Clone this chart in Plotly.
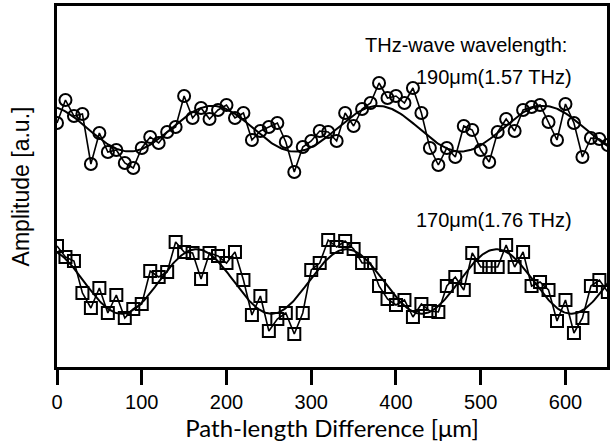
import numpy as np
import plotly.graph_objects as go

# Path-length difference [um]
x_circ = list(range(0, 660, 10))
y_circ = [2.44, 2.67, 2.51, 2.53, 2.03, 2.34, 2.15, 2.17, 2.04, 1.99,
          2.19, 2.30, 2.24, 2.35, 2.40, 2.71, 2.49, 2.59, 2.48, 2.57,
          2.62, 2.49, 2.54, 2.27, 2.36, 2.40, 2.44, 2.25, 1.95, 2.20,
          2.26, 2.36, 2.35, 2.26, 2.54, 2.41, 2.58, 2.64, 2.84, 2.69,
          2.71, 2.64, 2.79, 2.54, 2.19, 2.02, 2.19, 2.10, 2.41, 2.37,
          2.17, 2.05, 2.35, 2.48, 2.36, 2.57, 2.60, 2.62, 2.45, 2.27,
          2.63, 2.44, 2.10, 2.29, 2.28, 2.22]

x_sq = list(range(0, 660, 10))
y_sq = [1.21, 1.10, 1.06, 0.74, 0.59, 0.79, 0.54, 0.72, 0.49, 0.58,
        0.63, 0.96, 0.90, 0.95, 1.25, 1.15, 1.14, 0.88, 1.14, 1.11,
        1.04, 1.15, 0.87, 0.52, 0.71, 0.36, 0.48, 0.54, 0.33, 0.54,
        0.97, 1.04, 1.27, 1.20, 1.26, 1.18, 1.04, 1.04, 0.81, 0.68,
        0.62, 0.67, 0.50, 0.63, 0.56, 0.55, 0.81, 0.90, 0.77, 1.14,
        1.00, 1.00, 1.00, 1.22, 1.00, 1.15, 0.81, 0.85, 0.77, 0.46,
        0.67, 0.34, 0.49, 0.81, 0.87, 0.75]

x_ticks = [0, 100, 200, 300, 400, 500, 600]
label_top = "THz-wave wavelength:"
label_190 = "190μm(1.57 THz)"
label_170 = "170μm(1.76 THz)"


def sine_fit(x, y, periods):
    x = np.asarray(x, float)
    y = np.asarray(y, float)
    best = None
    for p in periods:
        A = np.column_stack([np.ones_like(x), np.cos(2 * np.pi * x / p), np.sin(2 * np.pi * x / p)])
        coef, res, *_ = np.linalg.lstsq(A, y, rcond=None)
        err = np.sum((A @ coef - y) ** 2)
        if best is None or err < best[0]:
            best = (err, p, coef)
    _, p, c = best
    xf = np.linspace(x.min(), x.max(), 400)
    yf = c[0] + c[1] * np.cos(2 * np.pi * xf / p) + c[2] * np.sin(2 * np.pi * xf / p)
    return xf, yf


xf1, yf1 = sine_fit(x_circ, y_circ, np.arange(150, 230, 0.5))
xf2, yf2 = sine_fit(x_sq, y_sq, np.arange(140, 210, 0.5))

fig = go.Figure()
fig.add_trace(go.Scatter(x=x_circ, y=y_circ, mode="lines+markers",
                         line=dict(color="black", width=1.6),
                         marker=dict(symbol="circle-open", size=12, color="black", line=dict(width=2)),
                         showlegend=False))
fig.add_trace(go.Scatter(x=xf1, y=yf1, mode="lines", line=dict(color="black", width=2), showlegend=False))
fig.add_trace(go.Scatter(x=x_sq, y=y_sq, mode="lines+markers",
                         line=dict(color="black", width=1.6),
                         marker=dict(symbol="square-open", size=12, color="black", line=dict(width=2)),
                         showlegend=False))
fig.add_trace(go.Scatter(x=xf2, y=yf2, mode="lines", line=dict(color="black", width=2), showlegend=False))

txt_font = dict(family="Liberation Sans, Arial", size=20, color="black")
fig.add_annotation(x=604, y=3.22, text=label_top, showarrow=False, xanchor="right", yanchor="middle", font=txt_font)
fig.add_annotation(x=610, y=2.90, text=label_190, showarrow=False, xanchor="right", yanchor="middle", font=txt_font)
fig.add_annotation(x=610, y=1.47, text=label_170, showarrow=False, xanchor="right", yanchor="middle", font=txt_font)

fig.update_layout(
    width=612, height=446,
    margin=dict(l=57, r=2, t=6, b=79),
    paper_bgcolor="white", plot_bgcolor="white",
    xaxis=dict(range=[0, 649], tickvals=x_ticks, ticks="outside", ticklen=15, tickwidth=3,
               tickcolor="black", showline=True, linewidth=3, linecolor="black", mirror=True,
               showgrid=False, zeroline=False,
               tickfont=dict(family="Liberation Sans, Arial", size=20, color="black"),
               title=dict(text="Path-length Difference [μm]",
                          font=dict(family="Lato, Calibri", size=24, color="black"), standoff=6)),
    yaxis=dict(range=[0, 3.61], showticklabels=False, ticks="", showline=True, linewidth=3,
               linecolor="black", mirror=True, showgrid=False, zeroline=False,
               title=dict(text="Amplitude [a.u.]",
                          font=dict(family="Liberation Sans, Arial", size=23, color="black"), standoff=18)),
)

fig.write_html("out.html")
